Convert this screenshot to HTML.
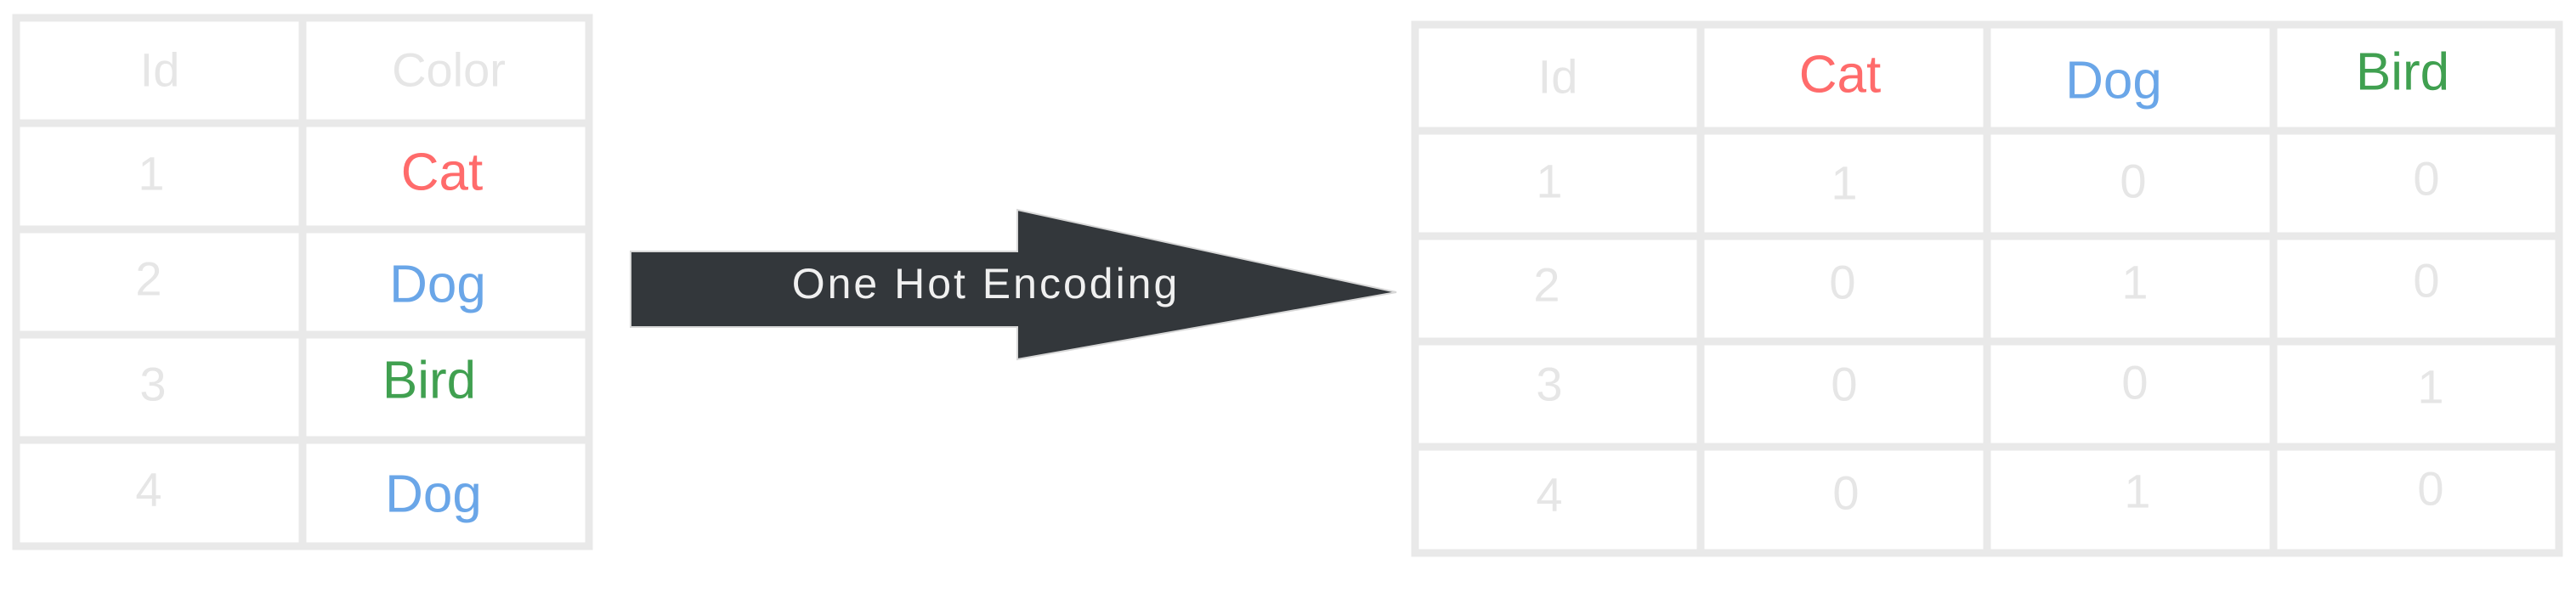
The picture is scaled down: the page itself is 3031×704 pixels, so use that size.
<!DOCTYPE html>
<html><head><meta charset="utf-8"><style>
html,body{margin:0;padding:0;background:#fff;}
svg{display:block;}
text{font-family:"Liberation Sans","DejaVu Sans",sans-serif;text-anchor:middle;dominant-baseline:central;}
</style></head><body>
<svg width="3031" height="704" viewBox="0 0 3031 704" xmlns="http://www.w3.org/2000/svg">
<g stroke="#e9e9e9" stroke-width="9" fill="none" stroke-linecap="round">
  <rect x="19" y="21" width="674" height="622"/>
  <line x1="356" y1="21" x2="356" y2="643"/>
  <line x1="19" y1="145" x2="693" y2="145"/>
  <line x1="19" y1="270" x2="693" y2="270"/>
  <line x1="19" y1="394" x2="693" y2="394"/>
  <line x1="19" y1="518" x2="693" y2="518"/>
  <rect x="1665" y="29" width="1346" height="622"/>
  <line x1="2001" y1="29" x2="2001" y2="651"/>
  <line x1="2338" y1="29" x2="2338" y2="651"/>
  <line x1="2675" y1="29" x2="2675" y2="651"/>
  <line x1="1665" y1="154" x2="3011" y2="154"/>
  <line x1="1665" y1="278" x2="3011" y2="278"/>
  <line x1="1665" y1="402" x2="3011" y2="402"/>
  <line x1="1665" y1="526" x2="3011" y2="526"/>
</g>
<g font-size="56" fill="#e6e6e6">
  <text x="188" y="82">Id</text>
  <text x="528" y="82">Color</text>
  <text x="178" y="204">1</text>
  <text x="175" y="328">2</text>
  <text x="180" y="452">3</text>
  <text x="175" y="576">4</text>
</g>
<g font-size="62">
  <text x="520" y="203" fill="#ff6b6b">Cat</text>
  <text x="515" y="335" fill="#6aa6e8">Dog</text>
  <text x="505" y="448" fill="#40a050">Bird</text>
  <text x="510" y="582" fill="#6aa6e8">Dog</text>
</g>
<polygon points="742,296 1197,296 1197,247 1643,344 1197,423 1197,385 742,385" fill="#33373b" stroke="#d8d8d8" stroke-width="2"/>
<text x="1160" y="334" font-size="50" fill="#f0f0f0" letter-spacing="3">One Hot Encoding</text>
<g font-size="56" fill="#e6e6e6">
  <text x="1833" y="90">Id</text>
  <text x="1823" y="213">1</text><text x="2170" y="215">1</text><text x="2510" y="213">0</text><text x="2855" y="210">0</text>
  <text x="1820" y="335">2</text><text x="2168" y="332">0</text><text x="2512" y="332">1</text><text x="2855" y="330">0</text>
  <text x="1823" y="452">3</text><text x="2170" y="452">0</text><text x="2512" y="450">0</text><text x="2860" y="455">1</text>
  <text x="1823" y="582">4</text><text x="2172" y="580">0</text><text x="2515" y="578">1</text><text x="2860" y="575">0</text>
</g>
<g font-size="62">
  <text x="2165" y="88" fill="#ff6b6b">Cat</text>
  <text x="2487" y="95" fill="#6aa6e8">Dog</text>
  <text x="2827" y="85" fill="#40a050">Bird</text>
</g>
</svg>
</body></html>
